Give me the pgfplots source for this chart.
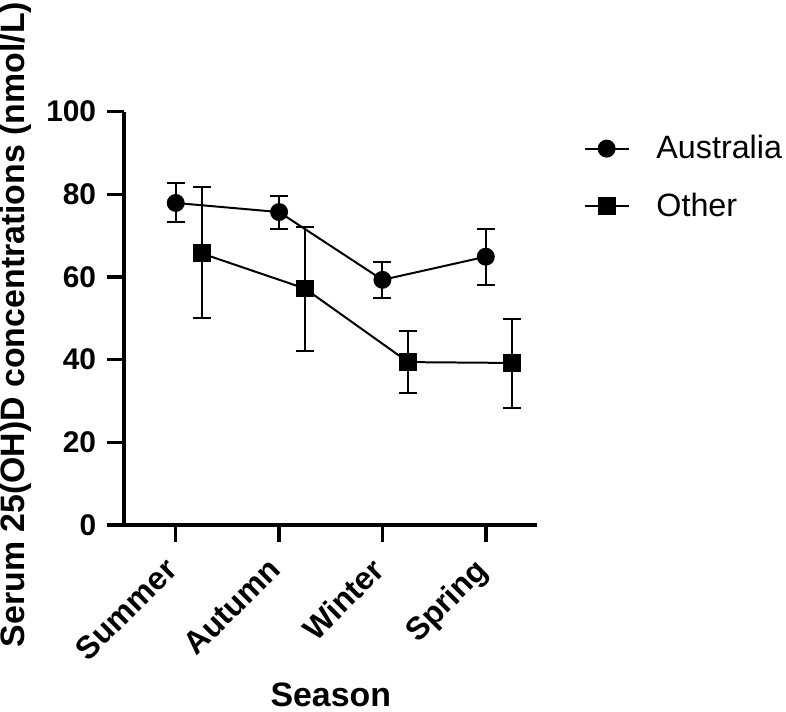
\documentclass[border=0pt]{standalone}
\usepackage{pgfplots}
\pgfplotsset{compat=1.18}
\usepackage{pgfplotstable}
\usepackage{fontspec}
\setmainfont{Liberation Sans}

\pgfplotstableread{
x y yp ym
0 77.9 4.8 4.7
1 75.7 4.0 4.1
2 59.3 4.2 4.3
3 64.9 6.7 6.9
}\aus
\pgfplotstableread{
x y yp ym
0.25 65.7 16.0 15.7
1.25 57.2 14.8 15.2
2.25 39.4 7.5 7.5
3.25 39.2 10.6 10.9
}\oth

\begin{document}
\begin{tikzpicture}
\begin{axis}[
  scale only axis, width=207.5pt, height=207.5pt,
  xmin=-0.5, xmax=3.5, ymin=0, ymax=100,
  axis x line=bottom, axis y line=left,
  axis line style={-, line width=1.75pt, black},
  xtick={0,1,2,3}, xticklabels={Summer,Autumn,Winter,Spring},
  ytick={0,20,40,60,80,100},
  tick align=outside, major tick length=8.5pt,
  tick style={line width=1.75pt, black},
  /pgf/number format/assume math mode=true,
  yticklabel style={font=\bfseries\fontsize{15}{18}\selectfont, xshift=-2pt},
  xticklabel style={rotate=45, anchor=north east, xshift=-6pt, yshift=3pt, font=\bfseries\fontsize{16}{19}\selectfont},
  xlabel={Season}, ylabel={Serum 25(OH)D concentrations (nmol/L)},
  label style={font=\bfseries\fontsize{17}{20}\selectfont, inner sep=0pt},
  xlabel style={at={(rel axis cs:0.5,-0.41)}, anchor=center},
  ylabel style={at={(rel axis cs:-0.262,0.485)}, anchor=center},
  clip=false,
  legend style={at={(1.111,0.953)}, anchor=north west, draw=none, fill=none,
    font=\fontsize{16.2}{19}\selectfont, row sep=11.5pt, inner xsep=0pt, inner ysep=0pt, cells={anchor=west}},
  legend image code/.code={\draw[mark repeat=2,mark phase=2,#1] plot coordinates {(0pt,0pt) (11pt,0pt) (22pt,0pt)};},
]
\addplot[black, line width=1pt, mark=*, mark size=4pt, mark options={solid},
  error bars/.cd, y dir=both, y explicit,
  error bar style={line width=1pt, black}, error mark options={rotate=90, line width=1pt, mark size=4.5pt, black}]
  table[x=x, y=y, y error plus=yp, y error minus=ym] {\aus};
\addlegendentry{\hspace*{11.5pt}Australia}
\addplot[black, line width=1pt, mark=square*, mark size=4pt, mark options={solid},
  error bars/.cd, y dir=both, y explicit,
  error bar style={line width=1pt, black}, error mark options={rotate=90, line width=1pt, mark size=4.5pt, black}]
  table[x=x, y=y, y error plus=yp, y error minus=ym] {\oth};
\addlegendentry{\hspace*{11.5pt}Other}
\path (rel axis cs:-0.294,-0.4506) rectangle (rel axis cs:1.6,1.27);
\end{axis}
\end{tikzpicture}
\end{document}
